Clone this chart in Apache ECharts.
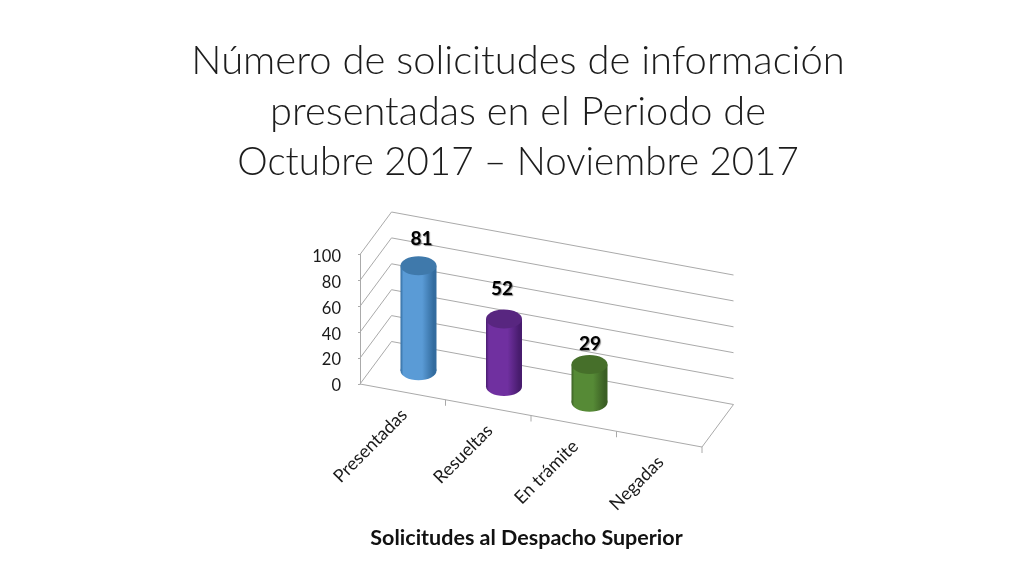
<!DOCTYPE html>
<html>
<head>
<meta charset="utf-8">
<style>html,body{margin:0;padding:0;background:#fff}#c{width:1024px;height:576px}</style>
<script src="https://cdn.jsdelivr.net/npm/echarts@6/dist/echarts.min.js"></script>
</head>
<body>
<div id="c"></div>
<script>
const categories = ['Presentadas', 'Resueltas', 'En trámite', 'Negadas'];
const values = [81, 52, 29, null];
const yTicks = [0, 20, 40, 60, 80, 100];
const barColors = [
  { edge: '#336c9f', mid: '#5a9bd6', top: '#3f79ab' },
  { edge: '#481c6e', mid: '#7030a0', top: '#582680' },
  { edge: '#3b5f24', mid: '#568a36', top: '#466f2a' }
];
const titleLines = ['Número de solicitudes de información', 'presentadas en el Periodo de', 'Octubre 2017 – Noviembre 2017'];
const titleSizes = [40, 39.8, 38.5];
const axisTitle = 'Solicitudes al Despacho Superior';
const labelNudge = [[3, -26.5], [-2, -30], [0.5, -20.5]];

const FONT = 'Lato';
const GRID_COLOR = '#aaaaaa';
const SHEAR = 63 / 342;          // screen drop per pixel along the category axis
const DEPTH = [31.5, -42.5];     // screen offset of the full floor depth

// Project (category position, depth 0..1, value) through the library's axes
function project(api, catPos, depth, v) {
  const first = api.coord([0, v]);
  const band = api.size([1, 0])[0];
  const left = first[0] - band / 2;
  const dx = catPos * band;
  return [left + dx + depth * DEPTH[0], first[1] + dx * SHEAR + depth * DEPTH[1]];
}
const lineStyle = { stroke: GRID_COLOR, lineWidth: 1, fill: null };
const n = categories.length;

const chart = echarts.init(document.getElementById('c'), null, { renderer: 'canvas' });
chart.setOption({
  backgroundColor: '#fff',
  animation: false,
  title: titleLines.map((t, i) => ({
    text: t, left: 513, top: 31 + i * 50.5, textAlign: 'center',
    textStyle: { fontFamily: FONT, fontWeight: 300, fontSize: titleSizes[i], lineHeight: 50.5, color: '#1c1c1c' }
  })).concat([
    { text: axisTitle, left: 521.5, top: 522, textAlign: 'center',
      textStyle: { fontFamily: FONT, fontWeight: 700, fontSize: 21.5, color: '#111' } }
  ]),
  grid: { left: 360, top: 254.5, width: 342, height: 129.5 },
  xAxis: { type: 'category', data: categories, show: false },
  yAxis: {
    type: 'value', min: 0, max: 100, interval: 20,
    axisLine: { show: true, lineStyle: { color: GRID_COLOR } },
    axisTick: { show: true, length: 2, lineStyle: { color: GRID_COLOR } },
    axisLabel: { fontFamily: FONT, fontSize: 16.5, color: '#1a1a1a', margin: 19, verticalAlign: 'top', lineHeight: 4 },
    splitLine: { show: false }
  },
  series: [
    { // side and back wall gridlines
      type: 'custom', z: 1, silent: true,
      data: yTicks.map(v => [0, v]),
      renderItem(p, api) {
        const v = api.value(1);
        return { type: 'polyline', shape: { points: [
          project(api, 0, 0, v), project(api, 0, 1, v), project(api, n, 1, v)
        ] }, style: lineStyle };
      }
    },
    { // floor front and right edge
      type: 'custom', z: 1, silent: true,
      data: [[0, 0]],
      renderItem(p, api) {
        return { type: 'polyline', shape: { points: [
          project(api, 0, 0, 0), project(api, n, 0, 0), project(api, n, 1, 0)
        ] }, style: lineStyle };
      }
    },
    { // category ticks and rotated labels
      type: 'custom', z: 2, silent: true,
      data: categories.map((c, i) => [i, 0]),
      renderItem(p, api) {
        const i = api.value(0);
        const t = project(api, i + 1, 0, 0);
        const m = project(api, i + 0.5, 0, 0);
        return { type: 'group', children: [
          { type: 'line', shape: { x1: t[0], y1: t[1], x2: t[0], y2: t[1] + 6 }, style: { stroke: GRID_COLOR, lineWidth: 1 } },
          { type: 'text', x: m[0] + 1.5, y: m[1] + 20, rotation: Math.PI / 4, originX: 0, originY: 0,
            style: { text: categories[i], font: '18px ' + FONT, fill: '#1a1a1a', align: 'right', verticalAlign: 'middle' } }
        ] };
      }
    },
    { // cylinders with value labels
      type: 'custom', z: 3, silent: true,
      data: values.map((v, i) => [i, v]),
      renderItem(p, api) {
        const i = api.value(0), v = api.value(1);
        if (v == null || isNaN(v)) return null;
        const b = project(api, i + 0.5, 0.5, 0);
        const t = project(api, i + 0.5, 0.5, v);
        const rx = 18, ry = 9.5;
        const col = barColors[i];
        const grad = { type: 'linear', x: 0, y: 0, x2: 1, y2: 0, colorStops: [
          { offset: 0, color: col.edge }, { offset: 0.08, color: col.mid },
          { offset: 0.6, color: col.mid }, { offset: 0.92, color: col.edge },
          { offset: 1, color: col.edge }
        ] };
        return { type: 'group', children: [
          { type: 'ellipse', shape: { cx: b[0], cy: b[1], rx, ry }, style: { fill: grad } },
          { type: 'rect', shape: { x: t[0] - rx, y: t[1], width: 2 * rx, height: b[1] - t[1] }, style: { fill: grad } },
          { type: 'ellipse', shape: { cx: t[0], cy: t[1], rx, ry }, style: { fill: col.top } },
          { type: 'text', x: t[0] + labelNudge[i][0], y: t[1] + labelNudge[i][1],
            style: { text: String(v), font: 'bold 19px ' + FONT, fill: '#000', align: 'center', verticalAlign: 'middle',
              textShadowColor: 'rgba(0,0,0,0.45)', textShadowBlur: 1, textShadowOffsetX: 1, textShadowOffsetY: 1 } }
        ] };
      }
    }
  ]
});
</script>
</body>
</html>
